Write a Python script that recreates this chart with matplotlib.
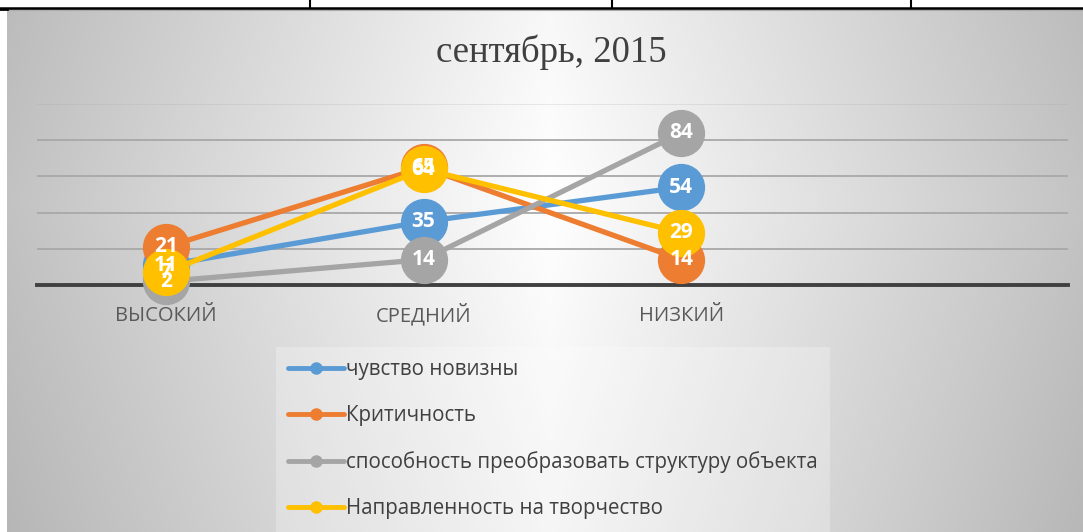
import matplotlib.pyplot as plt
import numpy as np
from matplotlib.lines import Line2D

# data (percent of pupils per level)
categories = ['ВЫСОКИЙ', 'СРЕДНИЙ', 'НИЗКИЙ', '']
series_names = ['чувство новизны',
                'Критичность',
                'способность преобразовать структуру объекта',
                'Направленность на творчество']
novelty = [11, 35, 54]
criticality = [21, 65, 14]
restructure = [2, 14, 84]
creativity = [7, 64, 29]
all_series = [novelty, criticality, restructure, creativity]
colors = ['#5B9BD5', '#ED7D31', '#A5A5A5', '#FFC000']

W, H = 1083, 532
fig = plt.figure(figsize=(W / 100, H / 100), dpi=100)
fig.patch.set_facecolor('white')

# grey gradient background of the chart block (light in the middle)
bg = fig.add_axes([7 / W, 0, 1 - 7 / W, (H - 9) / H])
xx = np.linspace(7, W, 400)
yy = np.linspace(9, H, 200)
gx, gy = np.meshgrid(xx, yy)
dx = np.abs(gx - 550) / 540
dy = np.abs(gy - 200) / 330
shade = 255 - 60 * dx - 12 * dy
shade = np.clip(shade, 0, 255) / 255
bg.imshow(np.dstack([shade] * 3), aspect='auto', extent=(0, 1, 0, 1))
bg.set_axis_off()
bg.axhline(0.998, color='#aaaaaa', lw=1.5)

# table lines above the chart
for xv in [310, 612, 911]:
    fig.add_artist(Line2D([xv / W, xv / W], [1, 1 - 8 / H], color='black', lw=1.5))
fig.add_artist(Line2D([0, 1], [1 - 7.5 / H, 1 - 7.5 / H], color='black', lw=1.8))
fig.add_artist(Line2D([0, 7 / W], [1 - 9 / H, 1 - 9 / H], color='black', lw=2))

ax = fig.add_axes([37 / W, (H - 285) / H, (1068 - 37) / W, (285 - 104) / H])
ax.patch.set_alpha(0)
ax.set_xlim(-0.5, 3.5)
ax.set_ylim(0, 100)
ax.set_yticks([0, 20, 40, 60, 80, 100])
ax.yaxis.grid(True, color='#a8a8a8', lw=1.3)
ax.get_ygridlines()[-1].set_alpha(0.25)
ax.set_axisbelow(True)
for s in ['top', 'left', 'right']:
    ax.spines[s].set_visible(False)
ax.spines['bottom'].set_color('#404040')
ax.spines['bottom'].set_linewidth(2.8)
ax.spines['bottom'].set_zorder(1)
ax.set_xticks(range(len(categories)))
ax.set_xticklabels(categories, family=['Open Sans', 'DejaVu Sans'], fontsize=14.5,
                   color='#595959', va='baseline')
ax.tick_params(axis='x', length=0, pad=26)
ax.tick_params(axis='y', length=0, labelleft=False)

xs = np.arange(len(novelty))
for k, (vals, col) in enumerate(zip(all_series, colors)):
    ax.plot(xs, vals, color=col, lw=3.8, marker='o', ms=33,
            markeredgecolor=col, zorder=3 + k, clip_on=False,
            solid_capstyle='round')
for vals in all_series:
    for x, v in zip(xs, vals):
        ax.text(x, v, str(v), ha='center', va='center', color='white',
                fontsize=15, fontweight='bold', family=['Open Sans', 'DejaVu Sans'],
                zorder=20)

handles = [Line2D([], [], color=c, lw=3.5, marker='o', ms=8, solid_capstyle='round')
           for c in colors]
leg = ax.legend(handles, series_names, loc='upper left',
                bbox_to_anchor=(276 / W, 1 - 347 / H), bbox_transform=fig.transFigure,
                frameon=True, facecolor='white', framealpha=0.25, edgecolor='none',
                fancybox=False, prop={'family': ['Open Sans', 'DejaVu Sans'], 'size': 14.8},
                handlelength=2.7, handletextpad=0.12, labelspacing=1.22,
                borderpad=0.6, borderaxespad=0)
for t in leg.get_texts():
    t.set_color('#404040')

fig.text(551 / W, 1 - 52 / H, 'сентябрь, 2015', family='Liberation Serif',
         fontsize=26.5, color='#404040', ha='center', va='center')

fig.savefig('out.png', dpi=100)
